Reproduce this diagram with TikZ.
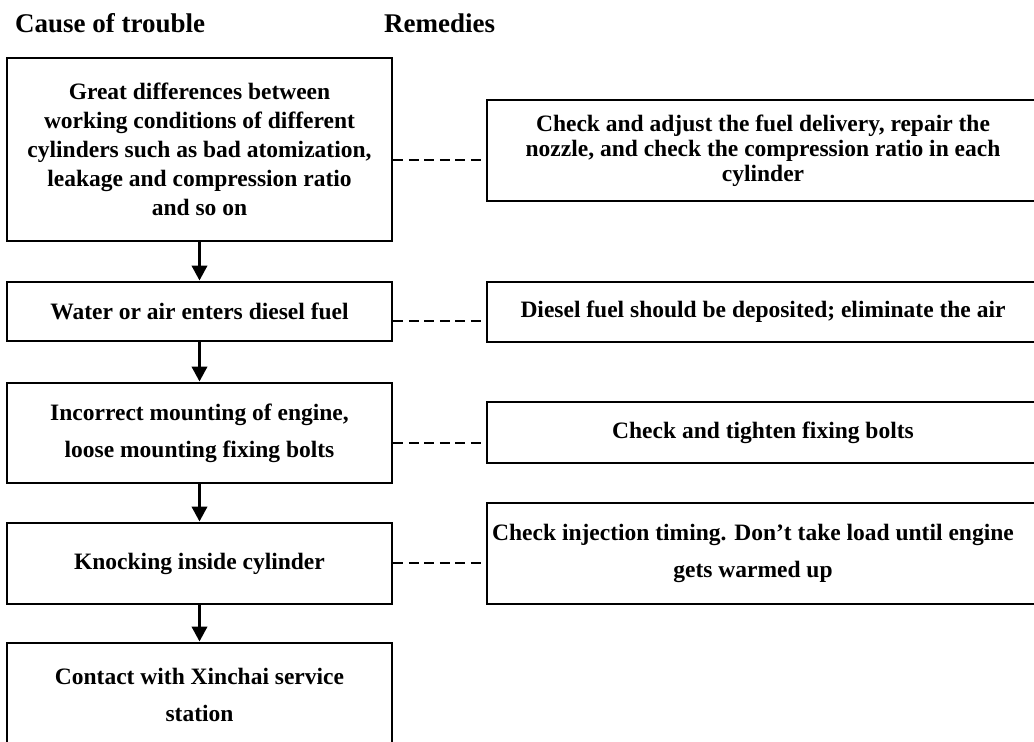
\documentclass[tikz,border=0pt]{standalone}
\usepackage{fontspec}
\setmainfont{Liberation Serif}
\usetikzlibrary{arrows.meta}
\begin{document}
\begin{tikzpicture}[x=1pt,y=-1pt,
  box/.style={draw, line width=2.8pt, inner sep=0pt, align=center, anchor=center},
  fA/.style={font=\bfseries\fontsize{23.5}{29}\selectfont},
  fB/.style={font=\bfseries\fontsize{23.5}{37}\selectfont},
  fC/.style={font=\bfseries\fontsize{23.5}{25}\selectfont},
  hdr/.style={font=\bfseries\fontsize{27}{32}\selectfont, inner sep=0pt, anchor=base west},
  arr/.style={-{Triangle[width=15pt,length=15pt]}, line width=3.5pt},
  dsh/.style={line width=2.6pt, dash pattern=on 10pt off 5.5pt}]
\useasboundingbox (0,0) rectangle (1034,742);
\clip (0,0) rectangle (1034,742);
% headers
\node[hdr] (h1) at (15,32) {Cause of trouble};
\node[hdr] (h2) at (384,32) {Remedies};
% left column
\node[box, fA, minimum width=385pt, minimum height=183pt] (L1) at (199.5,149.5)
  {Great differences between\\working conditions of different\\cylinders such as bad atomization,\\leakage and compression ratio\\and so on};
\node[box, fA, minimum width=385pt, minimum height=59pt] (L2) at (199.5,311.5)
  {Water or air enters diesel fuel};
\node[box, fB, minimum width=385pt, minimum height=100pt] (L3) at (199.5,433)
  {Incorrect mounting of engine,\\loose mounting fixing bolts};
\node[box, fA, minimum width=385pt, minimum height=81pt] (L4) at (199.5,563.5)
  {Knocking inside cylinder};
\node[box, fB, minimum width=385pt, minimum height=104pt] (L5) at (199.5,695)
  {Contact with Xinchai service\\station};
% right column
\node[box, fC, minimum width=552pt, minimum height=101pt] (R1) at (763,150.5)
  {Check and adjust the fuel delivery, repair the\\nozzle, and check the compression ratio in each\\cylinder};
\node[box, fA, minimum width=552pt, minimum height=60pt] (R2) at (763,312)
  {Diesel fuel should be deposited; eliminate the air};
\node[box, fA, minimum width=552pt, minimum height=61pt] (R3) at (763,432.5)
  {Check and tighten fixing bolts};
\node[box, fB, minimum width=552pt, minimum height=101pt] (R4) at (763,553.5)
  {\hspace*{-20pt}Check injection timing. Don’t take load until engine\\\hspace*{-20pt}gets warmed up};
% arrows
\draw[arr] (L1.south) -- (L2.north);
\draw[arr] (L2.south) -- (L3.north);
\draw[arr] (L3.south) -- (L4.north);
\draw[arr] (L4.south) -- (L5.north);
% dashed links
\coordinate (d1) at (0,160);
\coordinate (d2) at (0,321);
\coordinate (d3) at (0,443);
\coordinate (d4) at (0,563);
\draw[dsh] (L1.east |- d1) -- (R1.west |- d1);
\draw[dsh] (L2.east |- d2) -- (R2.west |- d2);
\draw[dsh] (L3.east |- d3) -- (R3.west |- d3);
\draw[dsh] (L4.east |- d4) -- (R4.west |- d4);
\end{tikzpicture}
\end{document}
